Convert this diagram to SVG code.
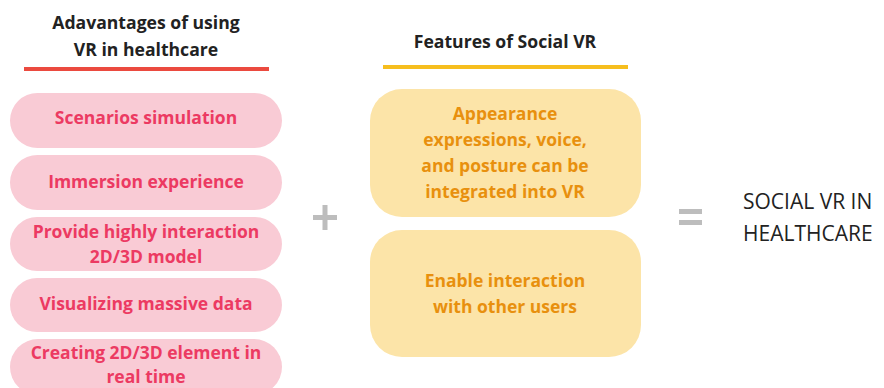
<svg xmlns="http://www.w3.org/2000/svg" width="884" height="388" viewBox="0 0 884 388">
  <style>
    .title { font-family: "Open Sans", "Noto Sans", sans-serif; font-weight: 700; font-size: 17.6px; fill: #222222; text-anchor: middle; }
    .pill { fill: #F9CBD5; }
    .pill-text { font-family: "Open Sans", "Noto Sans", sans-serif; font-weight: 700; font-size: 17.5px; fill: #EC3A62; text-anchor: middle; }
    .card { fill: #FCE4A8; }
    .card-text { font-family: "Open Sans", "Noto Sans", sans-serif; font-weight: 700; font-size: 17.5px; fill: #E8900E; text-anchor: middle; }
    .op { fill: #BDBDBD; }
    .result { font-family: "Open Sans", "Noto Sans", sans-serif; font-size: 21px; fill: #222222; }
  </style>

  <!-- Column 1 header -->
  <g id="header-advantages">
    <text class="title" x="146" y="29">Adavantages of using</text>
    <text class="title" x="146" y="56">VR in healthcare</text>
    <rect x="24" y="67" width="245" height="4" fill="#EB4A3F"/>
  </g>

  <!-- Advantages -->
  <g id="adv-1">
    <rect class="pill" x="10" y="93" width="272" height="55" rx="27.5"/>
    <text class="pill-text" x="146" y="124">Scenarios simulation</text>
  </g>
  <g id="adv-2">
    <rect class="pill" x="10" y="155" width="272" height="55" rx="27.5"/>
    <text class="pill-text" x="146" y="188">Immersion experience</text>
  </g>
  <g id="adv-3">
    <rect class="pill" x="10" y="217" width="272" height="54" rx="27"/>
    <text class="pill-text" x="146" y="238">Provide highly interaction</text>
    <text class="pill-text" x="146" y="263">2D/3D model</text>
  </g>
  <g id="adv-4">
    <rect class="pill" x="10" y="278" width="272" height="54" rx="27"/>
    <text class="pill-text" x="146" y="310">Visualizing massive data</text>
  </g>
  <g id="adv-5">
    <rect class="pill" x="10" y="339" width="272" height="56" rx="28"/>
    <text class="pill-text" x="146" y="359">Creating 2D/3D element in</text>
    <text class="pill-text" x="146" y="383">real time</text>
  </g>

  <!-- Column 2 header -->
  <g id="header-features">
    <text class="title" x="505" y="48">Features of Social VR</text>
    <rect x="383" y="65" width="245" height="4" fill="#F6BE1E"/>
  </g>

  <!-- Features -->
  <g id="feat-1">
    <rect class="card" x="370" y="89" width="271" height="128" rx="32"/>
    <text class="card-text" x="505" y="120">Appearance</text>
    <text class="card-text" x="505" y="146">expressions, voice,</text>
    <text class="card-text" x="505" y="172">and posture can be</text>
    <text class="card-text" x="505" y="198">integrated into VR</text>
  </g>
  <g id="feat-2">
    <rect class="card" x="370" y="230" width="271" height="127" rx="32"/>
    <text class="card-text" x="505" y="287">Enable interaction</text>
    <text class="card-text" x="505" y="313">with other users</text>
  </g>

  <!-- Operators -->
  <g id="plus">
    <rect class="op" x="313" y="215" width="24" height="5"/>
    <rect class="op" x="322.5" y="205" width="5" height="25"/>
  </g>
  <g id="equals">
    <rect class="op" x="679" y="209" width="23" height="5"/>
    <rect class="op" x="679" y="220" width="23" height="5"/>
  </g>

  <!-- Result -->
  <g id="result">
    <text class="result" x="743" y="209">SOCIAL VR IN</text>
    <text class="result" x="743" y="241">HEALTHCARE</text>
  </g>
</svg>
